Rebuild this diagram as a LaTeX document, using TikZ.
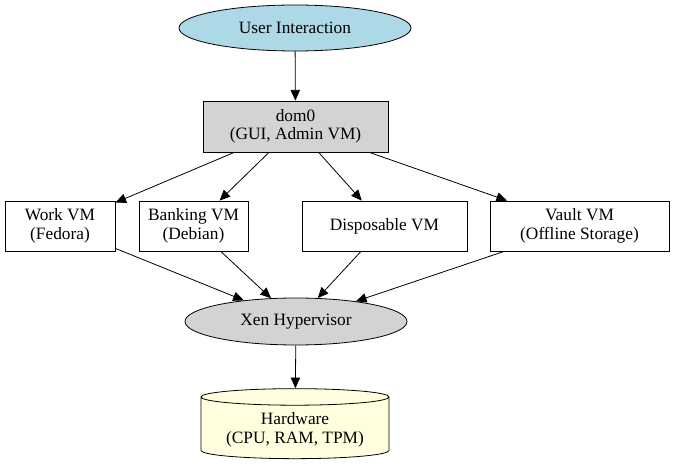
\documentclass[tikz,border=0pt]{standalone}
\usepackage{fontspec}
\setmainfont{Liberation Serif}
\usetikzlibrary{shapes.geometric,arrows.meta}
\definecolor{lblue}{RGB}{173,216,230}
\definecolor{lgray}{RGB}{211,211,211}
\definecolor{lyellow}{RGB}{255,255,224}
\begin{document}
\begin{tikzpicture}[x=0.75pt,y=-0.75pt,
  every node/.style={font=\fontsize{13}{14}\selectfont,align=center,draw,inner sep=0pt,line width=0.6pt},
  box/.style={rectangle},
  ell/.style={ellipse},
  arr/.style={-{Triangle[length=8pt,width=7pt]},line width=0.6pt}]
\useasboundingbox (0,0) rectangle (675,470);
\node[ell,fill=lblue,minimum width=232*0.75pt,minimum height=46*0.75pt] (ui) at (295,28) {User Interaction};
\node[box,fill=lgray,minimum width=185*0.75pt,minimum height=51*0.75pt] (dom0) at (295.5,126.5) {dom0\\(GUI, Admin VM)};
\node[box,minimum width=110*0.75pt,minimum height=50*0.75pt] (work) at (60,226) {Work VM\\(Fedora)};
\node[box,minimum width=109*0.75pt,minimum height=50*0.75pt] (bank) at (193.5,226) {Banking VM\\(Debian)};
\node[box,minimum width=165*0.75pt,minimum height=50*0.75pt] (disp) at (384.5,226) {Disposable VM};
\node[box,minimum width=179*0.75pt,minimum height=50*0.75pt] (vault) at (579.5,226) {Vault VM\\(Offline Storage)};
\node[ell,fill=lgray,minimum width=222*0.75pt,minimum height=47*0.75pt] (xen) at (296,321.5) {Xen Hypervisor};
\node[cylinder,shape border rotate=90,aspect=0.12,fill=lyellow,minimum width=188*0.75pt,minimum height=70*0.75pt] (hw) at (295,428) {\\[-2pt]Hardware\\(CPU, RAM, TPM)};
\draw[arr] (ui) -- (dom0);
\foreach \v in {work,bank,disp,vault}{
  \draw[arr] (dom0) -- (\v);
  \draw[arr] (\v) -- (xen);
}
\draw[arr] (xen) -- (hw);
\end{tikzpicture}
\end{document}
